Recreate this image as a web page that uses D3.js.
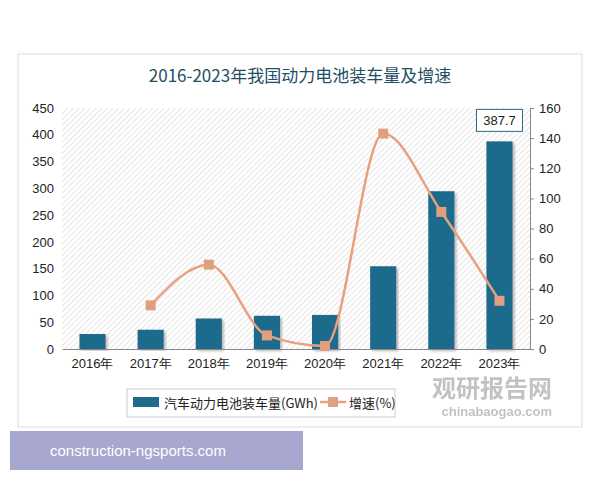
<!DOCTYPE html><html><head><meta charset="utf-8"><script src="https://cdn.jsdelivr.net/npm/d3@7"></script>
<style>body{margin:0;background:#fff}</style></head><body><svg id="c" width="600" height="480"></svg>
<script>
const categories=["2016年","2017年","2018年","2019年","2020年","2021年","2022年","2023年"];
const volume=[28,36,57,62,63.6,154.5,294.6,387.7];
const growthYears=["2017年","2018年","2019年","2020年","2021年","2022年","2023年"];
const growth=[29,56,9,2,143,91,32];
const leftTicks=[0,50,100,150,200,250,300,350,400,450];
const rightTicks=[0,20,40,60,80,100,120,140,160];
const svg=d3.select("#c");
const defs=svg.append("defs");
const pat=defs.append("pattern").attr("id","h").attr("width",4).attr("height",4).attr("patternUnits","userSpaceOnUse").attr("patternTransform","rotate(45)");
pat.append("rect").attr("width",4).attr("height",4).attr("fill","#fff");
pat.append("line").attr("x1",0).attr("y1",0).attr("x2",0).attr("y2",4).attr("stroke","#d4d4d4").attr("stroke-width",1.2);
const f=defs.append("filter").attr("id","sh");f.append("feDropShadow").attr("dx",2).attr("dy",2).attr("stdDeviation",1.5).attr("flood-color","#888").attr("flood-opacity",0.6);
svg.append("rect").attr("x",18).attr("y",54).attr("width",564).attr("height",373).attr("fill","#fff").attr("stroke","#ddd");
svg.append("text").attr("x",300).attr("y",82).attr("text-anchor","middle").attr("font-family","Noto Sans CJK SC").attr("font-size",17).attr("fill","#1f4e63").text("2016-2023年我国动力电池装车量及增速");
const L=62,R=530,T=108,B=349;
svg.append("rect").attr("x",L).attr("y",T).attr("width",R-L).attr("height",B-T).attr("fill","url(#h)");
const x=d3.scaleBand().domain(categories).range([L,R]).paddingInner(0.55).paddingOuter(0.3);
const y=d3.scaleLinear().domain([0,450]).range([B,T]);
const y2=d3.scaleLinear().domain([0,160]).range([B,T]);
const ff="Liberation Sans, Noto Sans";
const ax=svg.append("g").attr("transform",`translate(${L},0)`).call(d3.axisLeft(y).tickValues(leftTicks).tickSize(0).tickPadding(8));
ax.select(".domain").remove();
const ar=svg.append("g").attr("transform",`translate(${R},0)`).call(d3.axisRight(y2).tickValues(rightTicks).tickSize(4).tickPadding(5));
ar.select(".domain").attr("stroke","#888");ar.selectAll("line").attr("stroke","#888");
const ab=svg.append("g").attr("transform",`translate(0,${B})`).call(d3.axisBottom(x).tickSize(0).tickPadding(10));
ab.select(".domain").attr("stroke","#888");
svg.selectAll(".tick text").attr("font-family",ff).attr("font-size",13).attr("fill","#222");
svg.selectAll(".bar").data(volume).join("rect").attr("x",(d,i)=>x(categories[i])).attr("y",d=>y(d)).attr("width",x.bandwidth()).attr("height",d=>B-y(d)).attr("fill","#1f6b8c").attr("filter","url(#sh)");
const pts=growth.map((g,i)=>[x(growthYears[i])+x.bandwidth()/2,y2(g)]);
svg.append("path").attr("d",d3.line().curve(d3.curveMonotoneX)(pts)).attr("fill","none").attr("stroke","#e9a07e").attr("stroke-width",2.5);
svg.selectAll(".pt").data(pts).join("rect").attr("x",d=>d[0]-5).attr("y",d=>d[1]-5).attr("width",10).attr("height",10).attr("fill","#e0a080");
const lx=x("2023年")+x.bandwidth()/2;
svg.append("rect").attr("x",lx-23).attr("y",y(387.7)-32).attr("width",46).attr("height",22).attr("fill","#fff").attr("stroke","#2b6a80");
svg.append("text").attr("x",lx).attr("y",y(387.7)-16).attr("text-anchor","middle").attr("font-family",ff).attr("font-size",13).attr("fill","#222").text("387.7");
svg.append("rect").attr("x",127).attr("y",389).attr("width",268).attr("height",28).attr("fill","#fff").attr("stroke","#ccc");
svg.append("rect").attr("x",133).attr("y",397).attr("width",26).attr("height",10).attr("fill","#1f6b8c");
svg.append("text").attr("x",164).attr("y",408).attr("font-family","Noto Sans CJK SC").attr("font-size",13).attr("fill","#222").text("汽车动力电池装车量(GWh)");
svg.append("line").attr("x1",320).attr("x2",346).attr("y1",402).attr("y2",402).attr("stroke","#e9a07e").attr("stroke-width",2.5);
svg.append("rect").attr("x",328).attr("y",397).attr("width",10).attr("height",10).attr("fill","#e0a080");
svg.append("text").attr("x",349).attr("y",408).attr("font-family","Noto Sans CJK SC").attr("font-size",13).attr("fill","#222").text("增速(%)");
svg.append("text").attr("x",552).attr("y",397).attr("text-anchor","end").attr("font-family","Noto Sans CJK SC").attr("font-weight","bold").attr("font-size",24).attr("fill","#9a9a9a").attr("opacity",0.6).text("观研报告网");
svg.append("text").attr("x",552).attr("y",416).attr("text-anchor","end").attr("font-family",ff).attr("font-weight","bold").attr("font-size",13).attr("fill","#9a9a9a").attr("opacity",0.6).text("chinabaogao.com");
svg.append("rect").attr("x",10).attr("y",431).attr("width",293).attr("height",39).attr("fill","#a7a7cf");
svg.append("text").attr("x",50).attr("y",456).attr("font-family",ff).attr("font-size",15).attr("fill","#fff").text("construction-ngsports.com");
</script></body></html>
